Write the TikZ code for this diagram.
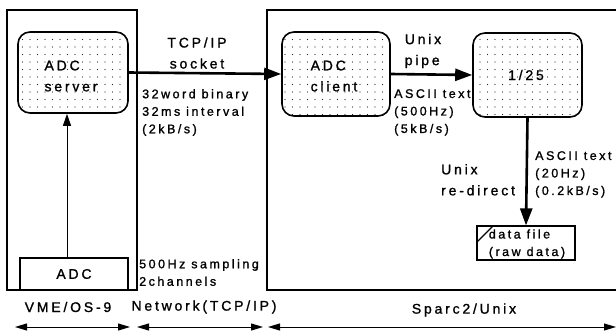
\documentclass[tikz,border=0pt]{standalone}
\usepackage{fontspec}
\setmainfont{Liberation Sans}[LetterSpace=20,FakeBold=1.2]
\usetikzlibrary{arrows.meta,patterns.meta}
\begin{document}
\begin{tikzpicture}[x=1pt,y=-1pt,
  frame/.style={draw,line width=1.1pt},
  proc/.style={draw,line width=1.6pt,rounded corners=12pt,pattern={Dots[distance=7.5pt,radius=0.6pt]},pattern color=black!85},
  plainbox/.style={draw,line width=1.2pt},
  thick arrow/.style={line width=2.6pt,-{Triangle[length=17pt,width=12pt]}},
  thin arrow/.style={line width=1pt,-{Triangle[length=12pt,width=8pt]}},
  span/.style={line width=1pt,{Triangle[length=12pt,width=7pt]}-{Triangle[length=12pt,width=7pt]}},
  big/.style={font=\fontsize{14}{21}\selectfont,inner sep=0pt},
  small/.style={font=\fontsize{12.5}{17.5}\selectfont,inner sep=0pt,align=left},
]
\useasboundingbox (0,0) rectangle (616,332);
% outer frames
\draw[frame] (7,10) rectangle (137,290);
\draw[frame] (622,10) -- (267,10) -- (267,290) -- (622,290);
% process boxes
\node[proc,minimum width=110pt,minimum height=81pt] (server) at (73,72.5) {};
\node[proc,minimum width=108pt,minimum height=84pt] (client) at (336,74) {};
\node[proc,minimum width=109pt,minimum height=84pt] (filt) at (527.5,75) {};
\node[big,align=left] (serverlbl) at (71,76) {ADC\\server};
\node[big,align=left] (clientlbl) at (334,76) {ADC\\client};
\node[big] (filtlbl) at (526,75) {1/25};
% ADC and data file
\node[plainbox,minimum width=108pt,minimum height=32pt,big] (adc) at (74,274) {ADC};
\node[plainbox,minimum width=98pt,minimum height=34pt,inner sep=0pt] (file) at (526,243) {};
\node[small] (filelbl) at (527,244) {data file\\(raw data)};
\coordinate (fc1) at (477,242);
\coordinate (fc2) at (493,226);
\draw[line width=1.2pt] (fc1) -- (fc2);
% connectors
\draw[thick arrow] (server.east) -- (client.west);
\draw[thick arrow] (client.east) -- (filt.west);
\draw[thick arrow] (filt.south) -- (file.north);
\draw[thin arrow] (adc.north -| 67,0) -- (server.south -| 67,0);
% labels
\node[big,align=center] (tcp) at (197,53) {TCP/IP\\socket};
\node[big,align=left] (pipe) at (423,51) {Unix\\pipe};
\node[big,align=left,anchor=north west] (redirect) at (441,164) {Unix\\re-direct};
\node[small,anchor=north west] (l1) at (142,89) {32word binary\\32ms interval\\(2kB/s)};
\node[small,anchor=north west] (l2) at (394,89) {ASCII text\\(500Hz)\\(5kB/s)};
\node[small,anchor=north west] (l3) at (535,151) {ASCII text\\(20Hz)\\(0.2kB/s)};
\node[small,anchor=north west] (l4) at (139,259) {500Hz sampling\\2channels};
% bottom
\node[big] (vme) at (68,307) {VME/OS-9};
\node[big] (net) at (204,307) {Network(TCP/IP)};
\node[big] (sparc) at (464,310) {Sparc2/Unix};
\coordinate (a1) at (15,327); \coordinate (a2) at (130,327);
\coordinate (b1) at (137,327); \coordinate (b2) at (263,327);
\coordinate (c1) at (268,327); \coordinate (c2) at (616,327);
\draw[span] (a1) -- (a2);
\draw[span] (b1) -- (b2);
\draw[span] (c1) -- (c2);
\end{tikzpicture}
\end{document}
